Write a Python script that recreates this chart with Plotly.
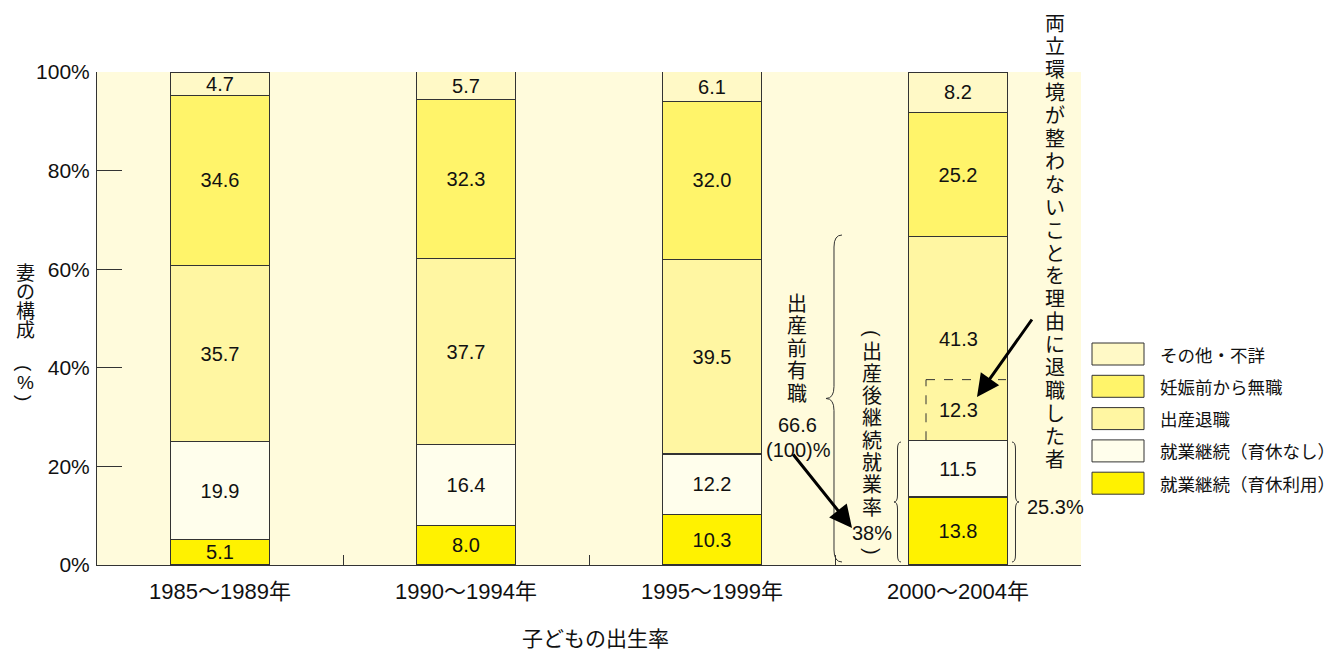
import plotly.graph_objects as go

# ---------------- data ----------------
periods = ["1985～1989年", "1990～1994年", "1995～1999年", "2000～2004年"]
series_names = ["就業継続（育休利用）", "就業継続（育休なし）", "出産退職", "妊娠前から無職", "その他・不詳"]
cont_leave = [5.1, 8.0, 10.3, 13.8]
cont_noleave = [19.9, 16.4, 12.2, 11.5]
quit_birth = [35.7, 37.7, 39.5, 41.3]
jobless_before = [34.6, 32.3, 32.0, 25.2]
other = [4.7, 5.7, 6.1, 8.2]
quit_balance_2000 = 12.3  # 両立環境が整わないことを理由に退職した者
series_values = [cont_leave, cont_noleave, quit_birth, jobless_before, other]
colors = ["#FFF200", "#FFFEEC", "#FFF6A2", "#FFF46A", "#FFF9C6"]
y_ticks = [0, 20, 40, 60, 80, 100]

FONT = "Liberation Sans, Arial, Noto Sans CJK JP, sans-serif"
JFONT = "Noto Sans CJK JP, sans-serif"

# plot area in pixels
L, R, T, B = 97, 1081, 72, 565
W, H = 1335, 654


def px(x):
    return (x - L) / (R - L)


def py(y):
    return (B - y) / (B - T)


fig = go.Figure()
for i, (name, vals, col) in enumerate(zip(series_names, series_values, colors)):
    texts = ["%.1f" % v for v in vals]
    if i == 2:
        texts[3] = ""  # labelled separately (split with dashed box)
    fig.add_trace(go.Bar(
        x=periods, y=vals, name=name, marker=dict(color=col, line=dict(color="#333333", width=1.2)),
        text=texts, textposition="inside", insidetextanchor="middle", textangle=0,
        constraintext="none", textfont=dict(family=FONT, size=20, color="#111111"),
        showlegend=False, hoverinfo="skip"))

annotations = []
shapes = []

# split labels in 2000 bar
base2000 = cont_leave[3] + cont_noleave[3]
annotations.append(dict(x=periods[3], y=base2000 + quit_balance_2000 / 2, xref="x", yref="y",
                        text="%.1f" % quit_balance_2000, showarrow=False,
                        font=dict(family=FONT, size=20, color="#111111")))
annotations.append(dict(x=periods[3], y=base2000 + quit_balance_2000 + 8.3, xref="x", yref="y",
                        text="%.1f" % quit_birth[3], showarrow=False,
                        font=dict(family=FONT, size=20, color="#111111")))
# dashed box
shapes.append(dict(type="line", xref="paper", yref="y", x0=px(926), x1=px(926),
                   y0=base2000, y1=base2000 + quit_balance_2000,
                   line=dict(color="#333333", width=1, dash="dash")))
shapes.append(dict(type="line", xref="paper", yref="y", x0=px(926), x1=px(1006),
                   y0=base2000 + quit_balance_2000, y1=base2000 + quit_balance_2000,
                   line=dict(color="#333333", width=1, dash="dash")))


def vtext(chars, x, ys, size=20, family=JFONT, angle=0):
    for c, y in zip(chars, ys):
        annotations.append(dict(x=px(x), y=py(y), xref="paper", yref="paper", text=c,
                                showarrow=False, xanchor="center", yanchor="middle",
                                textangle=angle, borderpad=0,
                                font=dict(family=family, size=size, color="#111111")))


def htext(t, x, y, size=20, xanchor="center", family=FONT):
    annotations.append(dict(x=px(x), y=py(y), xref="paper", yref="paper", text=t,
                            showarrow=False, xanchor=xanchor, yanchor="middle", borderpad=0,
                            font=dict(family=family, size=size, color="#111111")))


# y-axis title (vertical)
vtext(list("妻の構成"), 25, [271, 290, 309, 328], size=19)
vtext(["("], 25, [368], size=19, family=FONT, angle=90)
vtext(["%"], 25, [382], size=19, family=FONT)
vtext([")"], 25, [398], size=19, family=FONT, angle=90)

# 出産前有職
vtext(list("出産前有職"), 797, [302 + 22.5 * i for i in range(5)], size=20)
htext("66.6", 797, 425)
htext("(100)%", 798, 450)

# 出産後継続就業率
vtext(["("], 872, [333], size=20, family=FONT, angle=90)
vtext(list("出産後継続就業率"), 872, [350 + 22.3 * i for i in range(8)], size=20)
htext("38%", 872, 533)
vtext([")"], 872, [551], size=20, family=FONT, angle=90)

# right vertical text
vtext(list("両立環境が整わないことを理由に退職した者"), 1055, [23 + 22.9 * i for i in range(20)], size=20)

htext("25.3%", 1055, 507)

# x-axis title
htext("子どもの出生率", 595, 637, size=21, family=JFONT)

# arrows
annotations.append(dict(x=px(852), y=py(528), xref="paper", yref="paper", text="", showarrow=True,
                        ax=-60, ay=-75, arrowhead=2, arrowsize=1.5, arrowwidth=3, arrowcolor="#000000"))
annotations.append(dict(x=px(977), y=py(397), xref="paper", yref="paper", text="", showarrow=True,
                        ax=56, ay=-79, arrowhead=2, arrowsize=1.5, arrowwidth=3, arrowcolor="#000000"))


def brace(x0, top, bot, xp, r):
    mid = (top + bot) / 2
    xm = x0 + (xp - x0) / 2
    pts = [("M", [(x0, top)]), ("Q", [(xm, top), (xm, top + r)]), ("L", [(xm, mid - r)]),
           ("Q", [(xm, mid), (xp, mid)]), ("Q", [(xm, mid), (xm, mid + r)]), ("L", [(xm, bot - r)]),
           ("Q", [(xm, bot), (x0, bot)])]
    s = ""
    for cmd, p in pts:
        s += cmd + " " + " ".join("%.5f,%.5f" % (px(a), py(b)) for a, b in p) + " "
    shapes.append(dict(type="path", xref="paper", yref="paper", path=s.strip(),
                       line=dict(color="#333333", width=1)))


brace(842, 235, 562, 826, 12)
brace(901, 442, 562, 894, 7)
brace(1012, 442, 562, 1019, 7)

# custom legend (top to bottom: reverse of stacking)
for k, i in enumerate(reversed(range(len(series_names)))):
    top = 343 + 32.3 * k
    shapes.append(dict(type="rect", xref="paper", yref="paper", x0=px(1092), x1=px(1144),
                       y0=py(top + 22), y1=py(top), fillcolor=colors[i],
                       line=dict(color="#333333", width=1)))
    htext(series_names[i], 1159, top + 11, size=17.5, xanchor="left", family=JFONT)

fig.update_layout(
    width=W, height=H,
    margin=dict(l=L, r=W - R, t=T, b=H - B),
    barmode="stack", bargap=0.6,
    plot_bgcolor="#FFFBDC", paper_bgcolor="#FFFFFF",
    font=dict(family=FONT, size=20, color="#111111"),
    showlegend=False,
    annotations=annotations, shapes=shapes,
    xaxis=dict(type="category", tickson="boundaries", ticks="inside", ticklen=10,
               tickcolor="#333333", showline=True, linecolor="#333333", linewidth=1,
               showgrid=False, tickfont=dict(family=FONT, size=22), ticklabelstandoff=7),
    yaxis=dict(range=[0, 100], tickvals=y_ticks, ticktext=["%d%%" % v for v in y_ticks],
               ticks="inside", ticklen=25, tickcolor="#333333", showline=True,
               linecolor="#333333", linewidth=1, showgrid=False, zeroline=False,
               tickfont=dict(family=FONT, size=21), ticklabelstandoff=2),
)

fig.write_html("out.html")
